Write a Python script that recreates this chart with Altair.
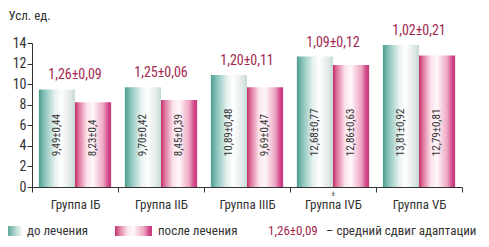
import altair as alt
import pandas as pd

groups = ["Группа IБ", "Группа IIБ", "Группа IIIБ", "Группа IVБ", "Группа VБ"]
series = ["до лечения", "после лечения"]
before_vals = [9.49, 9.70, 10.89, 12.68, 13.81]
after_vals = [8.23, 8.45, 9.69, 11.86, 12.79]
before_lbl = ["9,49±0,44", "9,70±0,42", "10,89±0,48", "12,68±0,77", "13,81±0,92"]
after_lbl = ["8,23±0,4", "8,45±0,39", "9,69±0,47", "12,86±0,63", "12,79±0,81"]
shift_lbl = ["1,26±0,09", "1,25±0,06", "1,20±0,11", "1,09±0,12", "1,02±0,21"]
sig_marks = ["", "", "", "±", ""]
y_ticks = [0, 2, 4, 6, 8, 10, 12, 14]
y_title = "Усл. ед."
legend_note = ["1,26±0,09", "– средний сдвиг адаптации"]

FONT = "Liberation Sans Narrow, Roboto Condensed, DejaVu Sans Condensed, Arial Narrow, sans-serif"
TXT = "#333333"
RED = "#a3284f"

rows = []
for i, g in enumerate(groups):
    rows.append(dict(group=g, series=series[0], value=before_vals[i], label=before_lbl[i],
                     shift=shift_lbl[i], sig=sig_marks[i]))
    rows.append(dict(group=g, series=series[1], value=after_vals[i], label=after_lbl[i],
                     shift=shift_lbl[i], sig=sig_marks[i]))
df = pd.DataFrame(rows)

teal_grad = alt.Gradient(
    gradient="linear", x1=0, x2=1, y1=0, y2=0,
    stops=[alt.GradientStop(color="#4e9b90", offset=0),
           alt.GradientStop(color="#86c1b8", offset=0.15),
           alt.GradientStop(color="#e6f2f0", offset=0.45),
           alt.GradientStop(color="#ffffff", offset=0.62),
           alt.GradientStop(color="#dfe9e7", offset=0.88),
           alt.GradientStop(color="#c4d9d5", offset=1)])
pink_grad = alt.Gradient(
    gradient="linear", x1=0, x2=1, y1=0, y2=0,
    stops=[alt.GradientStop(color="#c22f6b", offset=0),
           alt.GradientStop(color="#e07aa2", offset=0.12),
           alt.GradientStop(color="#fae3ec", offset=0.33),
           alt.GradientStop(color="#fff7fa", offset=0.5),
           alt.GradientStop(color="#eea6c3", offset=0.78),
           alt.GradientStop(color="#d2468a", offset=0.92),
           alt.GradientStop(color="#c33a78", offset=1)])
legend_teal = alt.Gradient(
    gradient="linear", x1=0, x2=1, y1=0, y2=0,
    stops=[alt.GradientStop(color="#5fa89d", offset=0),
           alt.GradientStop(color="#b5d8d2", offset=0.5),
           alt.GradientStop(color="#ffffff", offset=1)])

x_scale = alt.Scale(paddingInner=0, paddingOuter=0)
x_axis = alt.Axis(tickBand="extent", tickSize=5, labelAngle=0, labelPadding=6,
                  labelFontSize=13, labelFont=FONT, labelColor=TXT,
                  domainColor=TXT, tickColor=TXT, labelOverlap=False)
y_scale = alt.Scale(domain=[0, 14], nice=False)
y_axis = alt.Axis(values=y_ticks, grid=False, tickSize=5, labelPadding=1,
                  labelFontSize=14, labelFont=FONT, labelColor=TXT,
                  labelOverlap=False, domainColor=TXT, tickColor=TXT,
                  title=y_title, titleAngle=0, titleAlign="left",
                  titleBaseline="middle", titleX=-24, titleY=-28,
                  titleFont=FONT, titleFontSize=13, titleFontWeight="normal",
                  titleColor=TXT)

X = alt.X("group:N", sort=groups, title=None, scale=x_scale, axis=x_axis)
XO = alt.XOffset("series:N", sort=series,
                 scale=alt.Scale(domain=series, paddingInner=0, paddingOuter=0.19))
Y = alt.Y("value:Q", scale=y_scale, axis=y_axis)

base = alt.Chart(df)
bars_b = base.transform_filter(alt.datum.series == series[0]).mark_bar(
    color=teal_grad).encode(x=X, xOffset=XO, y=Y)
bars_a = base.transform_filter(alt.datum.series == series[1]).mark_bar(
    color=pink_grad).encode(x=X, xOffset=XO, y=Y)

inner = base.mark_text(angle=270, align="left", baseline="middle", font=FONT,
                       fontSize=11, color=TXT).encode(
    x=X, xOffset=XO, y=alt.YDatum(3.0, type="quantitative", scale=y_scale, axis=y_axis),
    text="label:N")

tops = base.transform_filter(alt.datum.series == series[0]).mark_text(
    baseline="middle", dy=-14, font=FONT, fontSize=14, color=RED).encode(
    x=X, y=Y, text="shift:N")

sig = base.transform_filter(alt.datum.series == series[0]).mark_text(
    baseline="middle", dy=7, font=FONT, fontSize=8, color=TXT).encode(
    x=X, y=alt.YDatum(0, type="quantitative", scale=y_scale, axis=y_axis),
    text="sig:N")

one = alt.Chart(pd.DataFrame({"k": [0]}))
LY = 188
sw_b = one.mark_rect(color=legend_teal).encode(
    x=alt.value(-24), x2=alt.value(-9), y=alt.value(LY - 5), y2=alt.value(LY + 5))
sw_a = one.mark_rect(color=pink_grad).encode(
    x=alt.value(83), x2=alt.value(120), y=alt.value(LY - 5), y2=alt.value(LY + 5))
lt_b = one.mark_text(align="left", baseline="middle", font=FONT, fontSize=13,
                     color=TXT).encode(x=alt.value(-5), y=alt.value(LY),
                                       text=alt.value(series[0]))
lt_a = one.mark_text(align="left", baseline="middle", font=FONT, fontSize=13,
                     color=TXT).encode(x=alt.value(126), y=alt.value(LY),
                                       text=alt.value(series[1]))
note_r = one.mark_text(align="left", baseline="middle", font=FONT, fontSize=13,
                       color=RED).encode(x=alt.value(236), y=alt.value(LY),
                                         text=alt.value(legend_note[0]))
note_b = one.mark_text(align="left", baseline="middle", font=FONT, fontSize=13,
                       color=TXT).encode(x=alt.value(294), y=alt.value(LY),
                                         text=alt.value(legend_note[1]))

chart = alt.layer(bars_b, bars_a, inner, tops, sig,
                  sw_b, sw_a, lt_b, lt_a, note_r, note_b).properties(
    width=430, height=144,
    padding={"left": 24, "top": 35, "right": 19, "bottom": 51},
    autosize=alt.AutoSizeParams(type="none"),
    background="white",
).configure_view(stroke=None)

chart.save("out.html", embed_options={"renderer": "svg", "actions": False})
